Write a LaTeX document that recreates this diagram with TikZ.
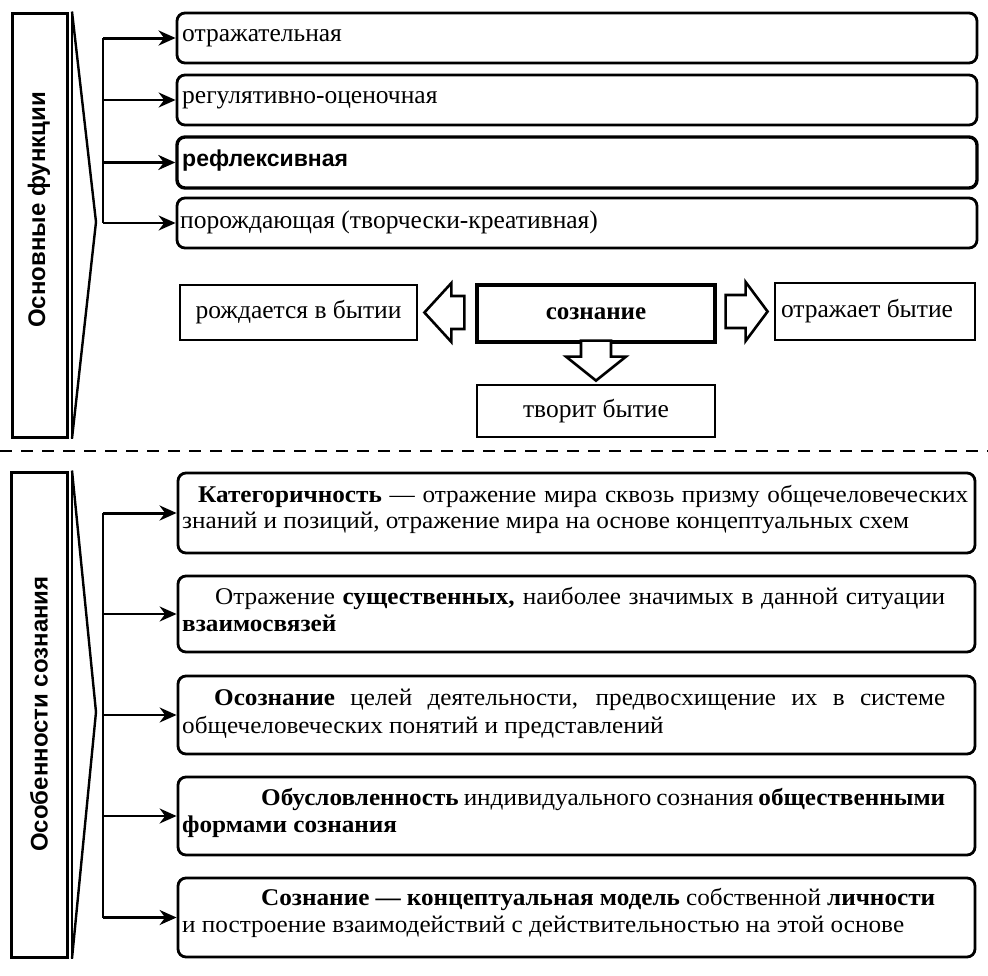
\documentclass[tikz,border=0pt]{standalone}
\usepackage{fontspec}
\setmainfont{Liberation Serif}
\newfontfamily\sansB{Liberation Sans}
\newfontfamily\condf{Liberation Serif}[FakeStretch=1.05]
\usetikzlibrary{calc,arrows.meta}
\newcommand\myfs[1]{\fontsize{#1}{#1}\selectfont}
\begin{document}
\begin{tikzpicture}[x=1pt,y=-1pt,
  rbox/.style={draw, line width=2.8pt, rounded corners=8pt, inner sep=0pt, minimum width=800pt},
  bbox/.style={draw, line width=2.8pt, rounded corners=8pt, inner sep=0pt, minimum width=797pt},
  sbox/.style={draw, line width=2.8pt, inner sep=0pt},
  lbox/.style={draw, line width=3pt, inner sep=0pt},
  side/.style={rotate=90, inner sep=0pt, font=\sansB\bfseries\myfs{24}},
  toptxt/.style={anchor=west, inner sep=0pt, font=\myfs{25.5}},
  midtxt/.style={inner sep=0pt, font=\myfs{25.5}},
  ln/.style={anchor=base west, inner sep=0pt, font=\condf\myfs{24}},
  arrthick/.style={line width=3pt, -{Stealth[length=17pt,width=15pt]}},
  arrthin/.style={line width=2.2pt, -{Stealth[length=17pt,width=15pt]}},
  hollow/.style={draw, line width=2.6pt, line join=miter, fill=white},
  tri/.style={line width=2.4pt}
]
\useasboundingbox (0,0) rectangle (988,975);
\fill[white] (0,0) rectangle (988,975);

% ---------- top part ----------
\node[lbox, minimum width=55pt, minimum height=424pt] (lb1) at (39.5,225) {};
\draw[line width=2pt] ($(lb1.north east)+(3.5,0)$) -- ($(lb1.south east)+(3.5,0)$);
\node[side] (lb1t) at (39,210) {Основные функции};
\coordinate (ap1) at (96,222);
\draw[tri] ($(lb1.north east)+(3.5,0)$) -- (ap1) -- ($(lb1.south east)+(3.5,0)$);

\node[rbox, minimum height=50pt] (f1) at (577,38) {};
\node[rbox, minimum height=50pt] (f2) at (577,100) {};
\node[rbox, minimum height=51pt, line width=3.4pt] (f3) at (577,162.5) {};
\node[rbox, minimum height=50pt] (f4) at (577,223) {};

\node[toptxt] (f1t) at (182,38) {отражательная};
\node[toptxt] (f2t) at (182,100) {регулятивно-оценочная};
\node[toptxt, font=\sansB\bfseries\myfs{23}] (f3t) at (182,161) {рефлексивная};
\node[toptxt] (f4t) at (180,222) {порождающая (творчески-креативная)};

\coordinate (br1) at (103,36);
\draw[line width=2.8pt] (br1 |- f1.west) -- (br1 |- f4.west);
\draw[arrthick] (br1 |- f1.west) -- (f1.west);
\draw[arrthin] (br1 |- f2.west) -- (f2.west);
\draw[arrthick] (br1 |- f3.west) -- (f3.west);
\draw[arrthin] (br1 |- f4.west) -- (f4.west);

% middle row
\node[sbox, minimum width=237pt, minimum height=55pt] (roj) at (298.5,312.5) {};
\node[sbox, minimum width=238pt, minimum height=57pt, line width=3.8pt] (soz) at (596,313.5) {};
\node[sbox, minimum width=200pt, minimum height=57pt] (otr) at (875,311.5) {};
\node[sbox, minimum width=238pt, minimum height=52pt] (tvo) at (596,411) {};
\node[midtxt] (rojt) at (roj) {рождается в бытии};
\node[midtxt, font=\bfseries\myfs{25}] (sozt) at (soz) {сознание};
\node[midtxt] (otrt) at ($(otr)+(-8,0)$) {отражает бытие};
\node[midtxt] (tvot) at (tvo) {творит бытие};

\coordinate (lt) at ($(roj.east)+(6,0)$);
\draw[hollow] (lt) -- ++(27,-29.5) -- ++(0,13) -- ++(13,0) -- ++(0,33) -- ++(-13,0) -- ++(0,13) -- cycle;
\coordinate (rt) at ($(otr.west)+(-6,0)$);
\draw[hollow] (rt) -- ++(-22,-29.5) -- ++(0,13) -- ++(-20,0) -- ++(0,33) -- ++(20,0) -- ++(0,13) -- cycle;
\coordinate (dt) at ($(tvo.north)+(0,-3)$);
\draw[hollow] (dt) -- ++(-30,-24) -- ++(15,0) -- ++(0,-16) -- ++(30,0) -- ++(0,16) -- ++(15,0) -- cycle;

% separator
\draw[line width=1.6pt, dash pattern=on 12pt off 9pt] (0,451) -- (988,451);

% ---------- bottom part ----------
\node[lbox, minimum width=56pt, minimum height=485pt] (lb2) at (39,714.5) {};
\draw[line width=2pt] ($(lb2.north east)+(3.5,0)$) -- ($(lb2.south east)+(3.5,0)$);
\node[side] (lb2t) at (39,714) {Особенности сознания};
\coordinate (ap2) at (96,712);
\draw[tri] ($(lb2.north east)+(3.5,0)$) -- (ap2) -- ($(lb2.south east)+(3.5,0)$);

\node[bbox, minimum height=80pt] (b1) at (576.5,513) {};
\node[bbox, minimum height=76pt] (b2) at (576.5,614) {};
\node[bbox, minimum height=78pt] (b3) at (576.5,715) {};
\node[bbox, minimum height=78pt] (b4) at (576.5,816) {};
\node[bbox, minimum height=79pt] (b5) at (576.5,917.5) {};

\coordinate (br2) at (103,512);
\draw[line width=2.8pt] (br2 |- b1.west) -- (br2 |- b5.west);
\draw[arrthick] (br2 |- b1.west) -- (b1.west);
\draw[arrthin] (br2 |- b2.west) -- (b2.west);
\draw[arrthin] (br2 |- b3.west) -- (b3.west);
\draw[arrthin] (br2 |- b4.west) -- (b4.west);
\draw[arrthin] (br2 |- b5.west) -- (b5.west);

\node[ln] (b1a) at (198,502) {\makebox[770pt][s]{\bfseries Категоричность \mdseries — отражение мира сквозь призму общечеловеческих}};
\node[ln] (b1b) at (182,528) {знаний и позиций, отражение мира на основе концептуальных схем};
\node[ln] (b2a) at (215,604) {\makebox[730pt][s]{Отражение \textbf{существенных,} наиболее значимых в данной ситуации}};
\node[ln] (b2b) at (182,631) {\textbf{взаимосвязей}};
\node[ln] (b3a) at (214,705) {\makebox[731pt][s]{\textbf{Осознание} целей деятельности, предвосхищение их в системе}};
\node[ln] (b3b) at (182,733) {общечеловеческих понятий и представлений};
\node[ln] (b4a) at (261,805) {\makebox[684pt][s]{\textbf{Обусловленность} индивидуального сознания \textbf{общественными}}};
\node[ln] (b4b) at (182,832) {\textbf{формами сознания}};
\node[ln] (b5a) at (261,905) {\makebox[674pt][s]{\textbf{Сознание — концептуальная модель} собственной \textbf{личности}}};
\node[ln] (b5b) at (182,932) {и построение взаимодействий с действительностью на этой основе};
\end{tikzpicture}
\end{document}
